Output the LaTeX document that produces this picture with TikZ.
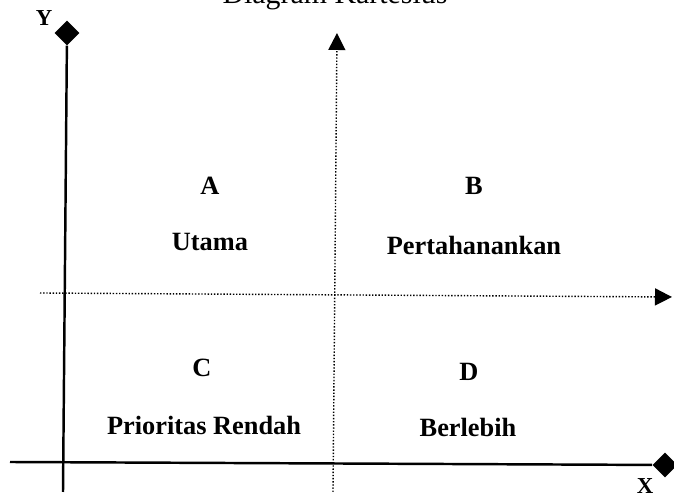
\documentclass[tikz,border=0pt]{standalone}
\usepackage{fontspec}
\setmainfont{Liberation Serif}
\usetikzlibrary{shapes.geometric,arrows.meta}

\begin{document}
\begin{tikzpicture}[x=0.02cm,y=-0.02cm,
        tip/.style={diamond,fill=black,inner sep=0pt,minimum size=0.5cm},
        lbl/.style={font=\bfseries\fontsize{15}{18}\selectfont}]
        \useasboundingbox (0,0) rectangle (674,499);
        \node[font=\fontsize{17}{20}\selectfont] (title) at (335,-3) {Diagram Kartesius};
        % solid axes with diamond ends
        \node[tip] (ytip) at (67,33) {};
        \node[tip] (xtip) at (665,465) {};
        \coordinate (yfoot) at (63,492);
        \coordinate (xfoot) at (10,462);
        \draw[line width=1.4pt] (yfoot) -- (ytip);
        \draw[line width=1.4pt] (xfoot) -- (xtip);
        \node[font=\bfseries\fontsize{13}{15}\selectfont] (y) at (44,18) {Y};
        \node[font=\bfseries\fontsize{13}{15}\selectfont] (x) at (645,486) {X};
        % dotted quadrant lines
        \coordinate (vfoot) at (333,492);
        \coordinate (vtop) at (337,33);
        \coordinate (hfoot) at (40,293);
        \coordinate (htop) at (672,297);
        \draw[densely dotted,line width=0.8pt,-{Triangle[width=0.34cm,length=0.34cm]}] (vfoot) -- (vtop);
        \draw[densely dotted,line width=0.8pt,-{Triangle[width=0.34cm,length=0.34cm]}] (hfoot) -- (htop);
        % quadrant labels
        \node[lbl] (a) at (210,186) {A};
        \node[lbl] (utama) at (210,242) {Utama};
        \node[lbl] (b) at (474,186) {B};
        \node[lbl] (pertahanankan) at (474,245) {Pertahanankan};
        \node[lbl] (c) at (202,368) {C};
        \node[lbl] (prioritas) at (204,425) {Prioritas Rendah};
        \node[lbl] (d) at (469,372) {D};
        \node[lbl] (berlebih) at (468,427) {Berlebih};
\end{tikzpicture}
\end{document}
